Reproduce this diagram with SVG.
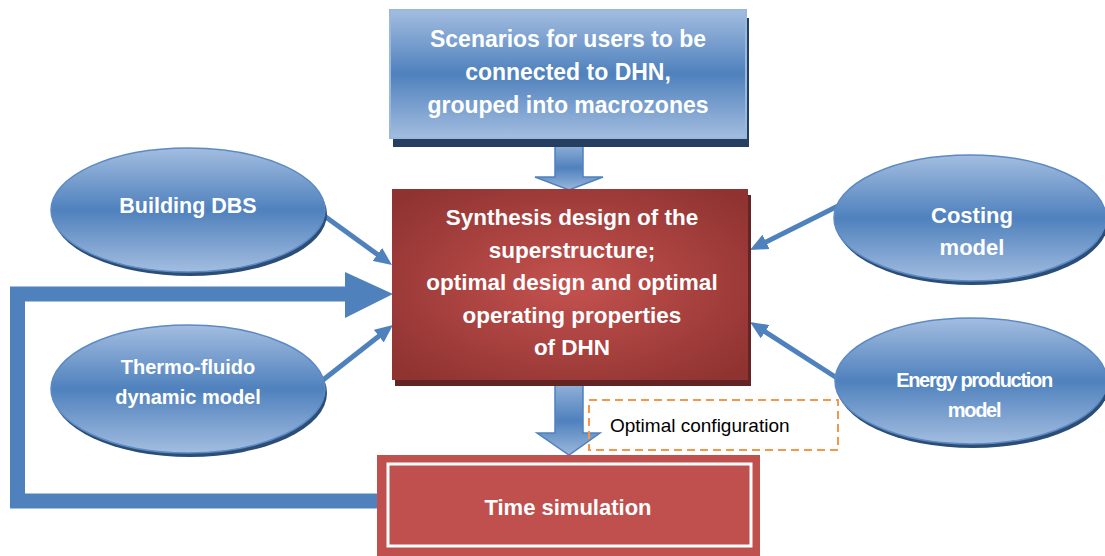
<svg xmlns="http://www.w3.org/2000/svg" width="1105" height="556" viewBox="0 0 1105 556">
<defs>
<linearGradient id="blueV" x1="0" y1="0" x2="0" y2="1">
<stop offset="0" stop-color="#a3bde0"/>
<stop offset="0.5" stop-color="#4f81bd"/>
<stop offset="1" stop-color="#a3bde0"/>
</linearGradient>
<linearGradient id="blueArrow" x1="0" y1="0" x2="0" y2="1">
<stop offset="0" stop-color="#9ab7dc"/>
<stop offset="0.55" stop-color="#4f81bd"/>
<stop offset="1" stop-color="#9ab7dc"/>
</linearGradient>
<radialGradient id="redR" cx="0.5" cy="0.5" r="0.65">
<stop offset="0" stop-color="#c4524f"/>
<stop offset="1" stop-color="#8f3331"/>
</radialGradient>
<marker id="ah" viewBox="0 0 18 16" refX="8" refY="8" markerWidth="18" markerHeight="16" markerUnits="userSpaceOnUse" orient="auto">
<path d="M0,0 L18,8 L0,16 z" fill="#4f81bd"/>
</marker>
<style>
.lbl{font-family:"Liberation Sans",Arial,sans-serif;font-weight:bold;fill:#ffffff;text-anchor:middle;dominant-baseline:central}
.ell{fill:url(#blueV);stroke:#5b8ac4;stroke-width:1.5}
.ellsh{fill:#2c4d75}
.thin{stroke:#4f81bd;stroke-width:5;fill:none;marker-end:url(#ah)}
.blk{fill:url(#blueArrow);stroke:#4f81bd;stroke-width:1.5}
</style>
</defs>

<g id="connectors">
<path d="M378,501 H17.5 V294 H345" fill="none" stroke="#4f81bd" stroke-width="15" stroke-linejoin="miter"/>
<polygon points="345,272 393,294 345,318" fill="#4f81bd"/>
<line class="thin" x1="323" y1="215" x2="383.9" y2="259.1"/>
<line class="thin" x1="323" y1="380" x2="385.1" y2="331.2"/>
<line class="thin" x1="850" y1="200" x2="758.9" y2="245.5"/>
<line class="thin" x1="837" y1="378" x2="758.4" y2="327.4"/>
<polygon class="blk" points="555,141 583,141 583,177 603,177 569,190 535,177 555,177"/>
<polygon class="blk" points="555,379 583,379 583,433 600,433 569,455 537,433 555,433"/>
</g>

<g id="scenarios">
<rect x="393" y="18" width="356" height="129" fill="#243f60"/>
<rect x="390" y="10" width="356" height="128" fill="url(#blueV)" stroke="#9ab7dc" stroke-width="2"/>
<text class="lbl" font-size="23" x="568" y="39">Scenarios for users to be</text>
<text class="lbl" font-size="23" x="568" y="72">connected to DHN,</text>
<text class="lbl" font-size="23" x="568" y="105">grouped into macrozones</text>
</g>

<g id="synthesis">
<rect x="395" y="195" width="356" height="191" fill="#632523"/>
<rect x="392" y="189" width="356" height="191" fill="url(#redR)"/>
<text class="lbl" font-size="22.5" x="572" y="217">Synthesis design of the</text>
<text class="lbl" font-size="22.5" x="572" y="250">superstructure;</text>
<text class="lbl" font-size="22.5" x="572" y="282">optimal design and optimal</text>
<text class="lbl" font-size="22.5" x="572" y="315">operating properties</text>
<text class="lbl" font-size="22.5" x="572" y="347">of DHN</text>
</g>

<g id="building">
<ellipse class="ellsh" cx="190" cy="214" rx="137" ry="62"/>
<ellipse class="ell" cx="188" cy="210" rx="137" ry="62"/>
<text class="lbl" font-size="21.5" x="188" y="206">Building DBS</text>
</g>

<g id="thermo">
<ellipse class="ellsh" cx="190" cy="393" rx="137" ry="64"/>
<ellipse class="ell" cx="188" cy="389" rx="137" ry="64"/>
<text class="lbl" font-size="20" x="188" y="367">Thermo-fluido</text>
<text class="lbl" font-size="20" x="188" y="397">dynamic model</text>
</g>

<g id="costing">
<ellipse class="ellsh" cx="972" cy="222" rx="136" ry="63"/>
<ellipse class="ell" cx="970" cy="218" rx="136" ry="63"/>
<text class="lbl" font-size="22" x="972" y="215">Costing</text>
<text class="lbl" font-size="22" x="972" y="247">model</text>
</g>

<g id="energy">
<ellipse class="ellsh" cx="973" cy="385" rx="136" ry="63"/>
<ellipse class="ell" cx="971" cy="381" rx="136" ry="63"/>
<text class="lbl" font-size="20" x="974" y="380" letter-spacing="-1.3">Energy production</text>
<text class="lbl" font-size="20" x="974" y="410" letter-spacing="-1.3">model</text>
</g>

<g id="optimal">
<rect x="589" y="400" width="249" height="50" fill="none" stroke="#f79646" stroke-width="2" stroke-dasharray="8,5"/>
<text x="610" y="425" font-family="'Liberation Sans',Arial,sans-serif" font-size="19" fill="#000000" dominant-baseline="central">Optimal configuration</text>
</g>

<g id="timesim">
<rect x="377" y="455" width="383" height="101" fill="#c0504d"/>
<rect x="388" y="464" width="363" height="82" fill="none" stroke="#ffffff" stroke-width="3"/>
<text class="lbl" font-size="22" x="568" y="507">Time simulation</text>
</g>
</svg>
